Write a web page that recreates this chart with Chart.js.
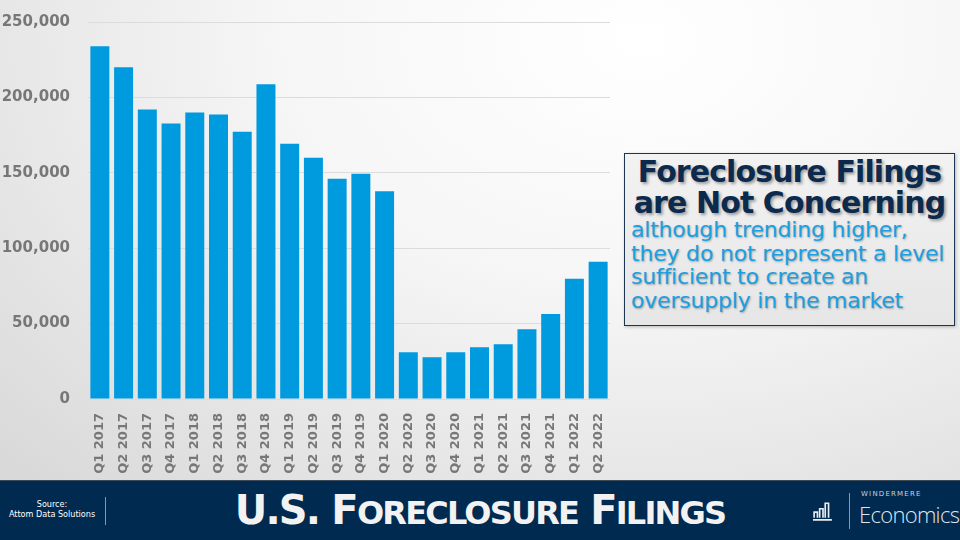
<!DOCTYPE html>
<html>
<head>
<meta charset="utf-8">
<script src="https://cdn.jsdelivr.net/npm/chart.js@4"></script>
<style>
  html, body { margin: 0; padding: 0; }
  body {
    width: 960px; height: 540px; overflow: hidden; position: relative;
    background: radial-gradient(ellipse 900px 620px at 640px 40px, #ffffff 0%, #f6f6f6 40%, #d8d8d8 100%);
    font-family: "DejaVu Sans", Verdana, sans-serif;
  }
  #chartBox { position: absolute; left: 0; top: -5px; width: 620px; height: 487px; }
  #note {
    position: absolute; left: 624px; top: 153px; width: 331px; height: 173px;
    border: 1px solid #1c3554; box-sizing: border-box;
    background: linear-gradient(#f2f2f2, #e6e6e6);
    box-shadow: 1px 1px 3px rgba(0,0,0,0.25);
  }
  #note h2 {
    margin: 0; padding-top: 2px; text-align: center;
    font: bold 30px/31px "DejaVu Sans", Verdana, sans-serif; color: #0c2a4d;
    letter-spacing: -0.9px;
    text-shadow: 2px 2px 3px rgba(0,0,0,0.35);
  }
  #note p {
    margin: 0; padding-left: 6px;
    font: 22px/23.5px "DejaVu Sans", sans-serif; color: #1aa0e2;
    letter-spacing: -0.2px;
    text-shadow: 1px 1px 2px rgba(0,0,0,0.3);
  }
  #footer {
    position: absolute; left: 0; top: 480px; width: 960px; height: 60px;
    background: #002a50; border-top: 1px solid #3c4a58;
  }
  #source {
    position: absolute; left: 0; width: 104px; top: 18px; text-align: center;
    color: #fff; font: 9px/10px "DejaVu Sans Condensed", sans-serif;
  }
  .vsep { position: absolute; top: 16px; width: 1px; height: 28px; background: #8797a8; }
  #title {
    position: absolute; left: 0; width: 960px; top: 7px; text-align: center;
    color: #f2f2f2; font: bold 40px/44px "DejaVu Sans", Verdana, sans-serif;
    letter-spacing: -1.8px;
  }
  #title small { font-size: 32px; }
  #wm { position: absolute; left: 861px; top: 9px; color: #c9d3dd; font: 7px "DejaVu Sans", sans-serif; letter-spacing: 1.2px; }
  #eco { position: absolute; left: 859px; top: 18px; color: #dfe6ee; font: 300 22px "Open Sans", "Liberation Sans", sans-serif; letter-spacing: -0.7px; }
  #icon { position: absolute; left: 813px; top: 20px; width: 20px; height: 20px; }
</style>
</head>
<body>
<div id="chartBox"><canvas id="bars"></canvas></div>

<div id="note">
  <h2>Foreclosure Filings<br>are Not Concerning</h2>
  <p>although trending higher,<br>they do not represent a level<br>sufficient to create an<br>oversupply in the market</p>
</div>

<div id="footer">
  <div id="source">Source:<br>Attom Data Solutions</div>
  <div class="vsep" style="left:105px"></div>
  <div id="title">U.S. F<small>ORECLOSURE</small> F<small>ILINGS</small></div>
  <svg id="icon" viewBox="0 0 18 18">
    <g fill="none" stroke="#e6ecf2" stroke-width="1.5">
      <path d="M1 15 V10 H4 V15"/>
      <path d="M6 15 V7 H9 V15"/>
      <path d="M11 15 V2 H14 V15"/>
    </g>
    <path d="M0 17 H17" stroke="#e6ecf2" stroke-width="1.6"/>
  </svg>
  <div class="vsep" style="left:849px; top:12px; height:36px"></div>
  <div id="wm">WINDERMERE</div>
  <div id="eco">Economics</div>
</div>

<script>
// quarters on the x axis
const quarters = [
  "Q1 2017", "Q2 2017", "Q3 2017", "Q4 2017",
  "Q1 2018", "Q2 2018", "Q3 2018", "Q4 2018",
  "Q1 2019", "Q2 2019", "Q3 2019", "Q4 2019",
  "Q1 2020", "Q2 2020", "Q3 2020", "Q4 2020",
  "Q1 2021", "Q2 2021", "Q3 2021", "Q4 2021",
  "Q1 2022", "Q2 2022"
];

// foreclosure filings per quarter
const filings = [
  234000, 220000, 192000, 182700,
  190000, 188700, 177300, 208700,
  169300, 160000, 146000, 149300,
  137700, 31000, 27700, 31000,
  34300, 36300, 46300, 56300,
  79700, 91000
];

const yMax = 250000;
const yStep = 50000;

const tickGrey = "#777777";

const ctx = document.getElementById("bars");
const filingsChart = new Chart(ctx, {
  type: "bar",
  data: {
    labels: quarters,
    datasets: [
      {
        label: "Foreclosure filings",
        data: filings,
        backgroundColor: "#009ade",
        barPercentage: 0.8,
        categoryPercentage: 1.0,
      },
    ],
  },
  options: {
    responsive: true,
    maintainAspectRatio: false,
    animation: false,
    layout: { padding: { top: 17, right: 10, left: 0, bottom: 0 } },
    plugins: {
      legend: { display: false },
      tooltip: { enabled: false },
    },
    scales: {
      x: {
        grid: { display: false },
        border: { display: false },
        ticks: {
          color: tickGrey,
          font: { family: "DejaVu Sans", size: 13, weight: "bold" },
          minRotation: 90,
          maxRotation: 90,
          autoSkip: false,
          padding: 6,
        },
        afterFit: (scale) => { scale.height = 83; },
      },
      y: {
        min: 0,
        max: yMax,
        grid: { color: "#dcdcdc", lineWidth: 1, drawTicks: false },
        border: { display: false },
        ticks: {
          stepSize: yStep,
          color: tickGrey,
          font: { family: "DejaVu Sans", size: 15, weight: "bold" },
          padding: 18,
          callback: (v) => v.toLocaleString("en-US"),
        },
        afterFit: (scale) => { scale.width = 88; },
      },
    },
  },
});
</script>
</body>
</html>
